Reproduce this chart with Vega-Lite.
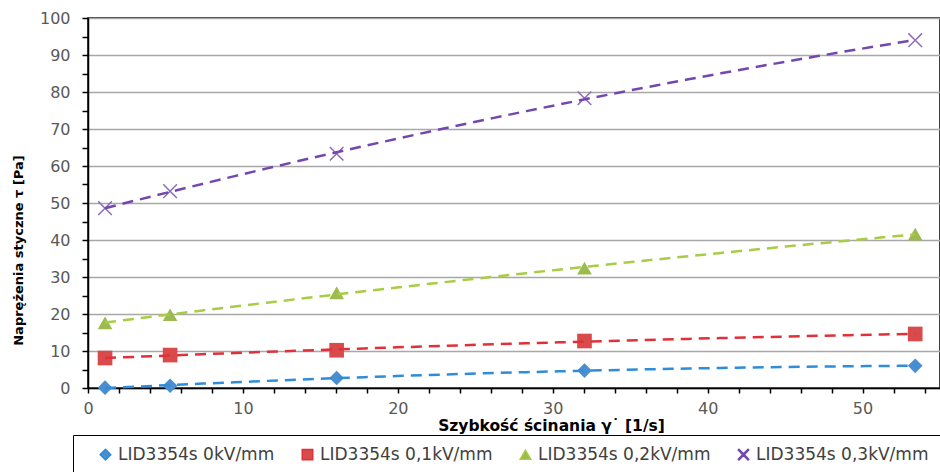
{
  "$schema": "https://vega.github.io/schema/vega-lite/v6.json",
  "autosize": "none",
  "width": 852,
  "height": 370,
  "padding": {"left": 88, "top": 18, "right": 0, "bottom": 84},
  "background": "white",
  "config": {
    "view": {"stroke": "black", "strokeWidth": 1.5},
    "font": "DejaVu Sans"
  },
  "data": {
    "values": [
      {"series": "LID3354s 0kV/mm", "x": 1.1, "y": 0.1},
      {"series": "LID3354s 0kV/mm", "x": 5.3, "y": 0.6},
      {"series": "LID3354s 0kV/mm", "x": 16.05, "y": 2.7},
      {"series": "LID3354s 0kV/mm", "x": 32.05, "y": 4.7},
      {"series": "LID3354s 0kV/mm", "x": 53.4, "y": 6.0},
      {"series": "LID3354s 0,1kV/mm", "x": 1.1, "y": 8.1},
      {"series": "LID3354s 0,1kV/mm", "x": 5.3, "y": 8.9},
      {"series": "LID3354s 0,1kV/mm", "x": 16.05, "y": 10.2},
      {"series": "LID3354s 0,1kV/mm", "x": 32.05, "y": 12.7},
      {"series": "LID3354s 0,1kV/mm", "x": 53.4, "y": 14.6},
      {"series": "LID3354s 0,2kV/mm", "x": 1.1, "y": 17.6},
      {"series": "LID3354s 0,2kV/mm", "x": 5.3, "y": 19.8},
      {"series": "LID3354s 0,2kV/mm", "x": 16.05, "y": 25.7},
      {"series": "LID3354s 0,2kV/mm", "x": 32.05, "y": 32.4},
      {"series": "LID3354s 0,2kV/mm", "x": 53.4, "y": 41.6},
      {"series": "LID3354s 0,3kV/mm", "x": 1.1, "y": 48.6},
      {"series": "LID3354s 0,3kV/mm", "x": 5.3, "y": 53.2},
      {"series": "LID3354s 0,3kV/mm", "x": 16.05, "y": 63.3},
      {"series": "LID3354s 0,3kV/mm", "x": 32.05, "y": 78.3},
      {"series": "LID3354s 0,3kV/mm", "x": 53.4, "y": 94.0}
    ]
  },
  "layer": [
    {
      "mark": {"type": "point", "filled": true, "opacity": 1, "size": 215},
      "encoding": {
        "x": {
          "field": "x", "type": "quantitative",
          "scale": {"domain": [0, 55], "nice": false, "zero": false},
          "axis": {
            "title": "Szybkość ścinania γ˙ [1/s]",
            "values": [0,2,4,6,8,10,12,14,16,18,20,22,24,26,28,30,32,34,36,38,40,42,44,46,48,50,52,54],
            "tickCount": 200,
            "format": "d",
            "labelExpr": "datum.value % 10 === 0 ? datum.label : ''",
            "labelOverlap": false,
            "labelFlush": false,
            "grid": false,
            "domainColor": "black", "domainWidth": 1.5,
            "tickColor": "black", "tickWidth": 1.5, "tickSize": 5,
            "labelFont": "DejaVu Sans", "labelFontSize": 16, "labelColor": "#595959", "labelPadding": 7,
            "titleFont": "DejaVu Sans", "titleFontSize": 15.5, "titleFontWeight": "bold", "titleColor": "black",
            "titleX": 463, "titleY": 37, "titleAlign": "center", "titleBaseline": "middle"
          }
        },
        "y": {
          "field": "y", "type": "quantitative",
          "scale": {"domain": [0, 100], "nice": false},
          "axis": {
            "title": "Naprężenia styczne τ [Pa]",
            "values": [0,5,10,15,20,25,30,35,40,45,50,55,60,65,70,75,80,85,90,95,100],
            "tickCount": 200,
            "format": "d",
            "labelExpr": "datum.value % 10 === 0 ? datum.label : ''",
            "labelOverlap": false,
            "labelFlush": false,
            "grid": true,
            "gridColor": "#A8A8A8", "gridWidth": 1.5,
            "gridOpacity": {"condition": {"test": "datum.value % 10 === 0", "value": 1}, "value": 0},
            "domainColor": "black", "domainWidth": 1.5,
            "tickColor": "black", "tickWidth": 1.5, "tickSize": 6,
            "labelFont": "DejaVu Sans", "labelFontSize": 16, "labelColor": "#595959", "labelPadding": 12,
            "titleFont": "DejaVu Sans", "titleFontSize": 13, "titleFontWeight": "bold", "titleColor": "black",
            "titleX": -70, "titleY": 232, "titleAlign": "center", "titleBaseline": "middle", "titleAngle": -90
          }
        },
        "color": {
          "field": "series", "type": "nominal",
          "scale": {
            "domain": ["LID3354s 0kV/mm", "LID3354s 0,1kV/mm", "LID3354s 0,2kV/mm", "LID3354s 0,3kV/mm"],
            "range": ["#4A8ED2", "#D94B4B", "#9BBB4F", "#8A6BB8"]
          },
          "legend": {
            "title": null,
            "orient": "none",
            "legendX": -15,
            "legendY": 417,
            "direction": "horizontal",
            "columns": 4,
            "strokeColor": "black",
            "fillColor": "white",
            "padding": 11,
            "symbolOffset": 13,
            "symbolSize": 110,
            "columnPadding": 11,
            "labelFont": "DejaVu Sans",
            "labelFontSize": 17,
            "labelColor": "#404040",
            "labelLimit": 400,
            "labelOffset": 4
          }
        },
        "shape": {
          "field": "series", "type": "nominal",
          "scale": {
            "domain": ["LID3354s 0kV/mm", "LID3354s 0,1kV/mm", "LID3354s 0,2kV/mm", "LID3354s 0,3kV/mm"],
            "range": ["diamond", "square", "triangle-up", "M-1,-0.86L-0.86,-1L0,-0.14L0.86,-1L1,-0.86L0.14,0L1,0.86L0.86,1L0,0.14L-0.86,1L-1,0.86L-0.14,0Z"]
          }
        }
      }
    },
    {
      "transform": [
        {"regression": "y", "on": "x", "groupby": ["series"], "method": "poly", "order": 2}
      ],
      "mark": {"type": "line", "strokeWidth": 2.5, "strokeDash": [11, 7]},
      "encoding": {
        "x": {"field": "x", "type": "quantitative"},
        "y": {"field": "y", "type": "quantitative"},
        "stroke": {
          "field": "series", "type": "nominal",
          "scale": {
            "domain": ["LID3354s 0kV/mm", "LID3354s 0,1kV/mm", "LID3354s 0,2kV/mm", "LID3354s 0,3kV/mm"],
            "range": ["#2E8CD8", "#E0303A", "#A9CC45", "#7447AE"]
          },
          "legend": null
        }
      }
    }
  ]
}
